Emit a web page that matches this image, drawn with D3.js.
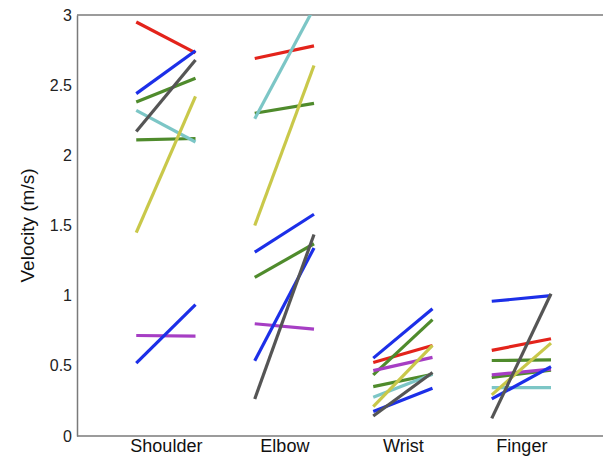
<!DOCTYPE html>
<html>
<head>
<meta charset="utf-8">
<script src="https://cdn.jsdelivr.net/npm/d3@7"></script>
<style>
  html, body { margin: 0; padding: 0; background: #fff; }
  text { font-family: "Liberation Sans", Arial, Helvetica, sans-serif; }
</style>
</head>
<body>
<svg id="chart" width="603" height="457"></svg>
<script>
// Joint categories along the x axis
const joints = ["Shoulder", "Elbow", "Wrist", "Finger"];
const yTicks = [0, 0.5, 1, 1.5, 2, 2.5, 3];

// Peak velocity (m/s) per subject: [first, second] condition for each joint
const subjRed      = [[2.95, 2.73], [2.69, 2.78], [0.524, 0.645], [0.61, 0.693]];
const subjGreenA   = [[2.38, 2.55], [2.30, 2.37], [0.436, 0.829], [0.538, 0.543]];
const subjGreenB   = [[2.11, 2.12], [1.13, 1.37], [0.352, 0.44], [0.417, 0.47]];
const subjCyan     = [[2.32, 2.095], [2.26, 3.05], [0.276, 0.44], [0.345, 0.345]];
const subjMagenta  = [[0.716, 0.712], [0.80, 0.762], [0.466, 0.56], [0.436, 0.476]];
const subjBlueA    = [[2.44, 2.745], [1.31, 1.58], [0.555, 0.907], [0.96, 1.0]];
const subjBlueB    = [[0.52, 0.936], [0.536, 1.34], [0.174, 0.34], [0.264, 0.495]];
const subjYellow   = [[1.45, 2.42], [1.50, 2.64], [0.21, 0.645], [0.293, 0.662]];
const subjGray     = [[2.17, 2.68], [0.264, 1.436], [0.143, 0.452], [0.126, 1.014]];

const subjects = [subjRed, subjGreenA, subjGreenB, subjCyan, subjMagenta, subjBlueA, subjBlueB, subjYellow, subjGray];
const subjectColors = ["#e3231b", "#4f8b2c", "#4f8b2c", "#7cc6c6", "#a63ec4", "#1c2fe8", "#1c2fe8", "#c9c84a", "#555555"];

const svg = d3.select("#chart");
const margin = { left: 77, top: 15, bottom: 436 };
const W = 603;

const y = d3.scaleLinear().domain([0, 3]).range([margin.bottom, margin.top]);
// category index scale: joint i sits at i + 1
const x = d3.scaleLinear().domain([0.25, 4.75]).range([margin.left, margin.left + 4.5 * 118.5]);
const halfWidth = 0.25;

svg.append("defs").append("clipPath").attr("id", "plotClip")
  .append("rect")
  .attr("x", margin.left).attr("y", margin.top)
  .attr("width", W - margin.left).attr("height", margin.bottom - margin.top);

// frame: top and bottom lines
const frameColor = "#7a7a7a";
svg.append("line").attr("x1", margin.left).attr("x2", W)
  .attr("y1", margin.top).attr("y2", margin.top)
  .attr("stroke", frameColor).attr("stroke-width", 1.5);
svg.append("line").attr("x1", margin.left).attr("x2", W)
  .attr("y1", margin.bottom).attr("y2", margin.bottom)
  .attr("stroke", frameColor).attr("stroke-width", 1.5);

// y axis
const yAxis = svg.append("g")
  .attr("transform", `translate(${margin.left},0)`)
  .call(d3.axisLeft(y).tickValues(yTicks).tickSize(0).tickPadding(5).tickFormat(d3.format("")));
yAxis.select(".domain").attr("stroke", frameColor).attr("stroke-width", 1.5);
yAxis.selectAll("text").attr("font-size", 16).attr("fill", "#222");

svg.append("text")
  .attr("transform", `translate(27,${(margin.top + margin.bottom) / 2}) rotate(-90)`)
  .attr("text-anchor", "middle")
  .attr("dominant-baseline", "central")
  .attr("font-size", 19).attr("fill", "#111")
  .text("Velocity (m/s)");

// x axis category labels
const xAxis = svg.append("g")
  .attr("transform", `translate(0,${margin.bottom})`)
  .call(d3.axisBottom(x).tickValues(joints.map((d, i) => i + 1))
    .tickFormat((d, i) => joints[i]).tickSize(0).tickPadding(3));
xAxis.select(".domain").remove();
xAxis.selectAll("text").attr("font-size", 18).attr("fill", "#111");

// subject segments
const plot = svg.append("g").attr("clip-path", "url(#plotClip)");
subjects.forEach((subj, s) => {
  plot.selectAll(null)
    .data(subj)
    .join("line")
    .attr("x1", (d, i) => x(i + 1 - halfWidth))
    .attr("x2", (d, i) => x(i + 1 + halfWidth))
    .attr("y1", d => y(d[0]))
    .attr("y2", d => y(d[1]))
    .attr("stroke", subjectColors[s])
    .attr("stroke-width", 3.2)
    .attr("stroke-linecap", "butt");
});
</script>
</body>
</html>
